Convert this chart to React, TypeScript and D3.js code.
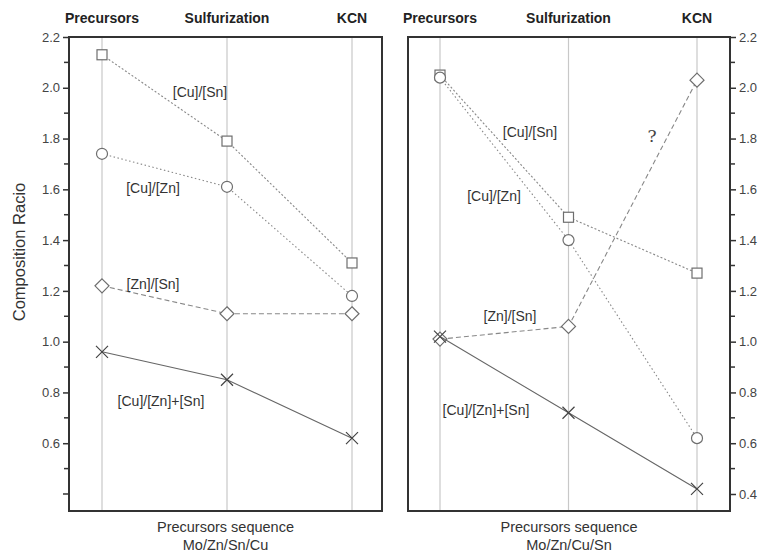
import React, { useEffect, useRef } from 'react'
import * as d3 from 'd3'

const stages = ['Precursors', 'Sulfurization', 'KCN']
const yTicks = [0.4, 0.6, 0.8, 1.0, 1.2, 1.4, 1.6, 1.8, 2.0, 2.2]

// left panel: Mo/Zn/Sn/Cu
const leftCuSn = [2.13, 1.79, 1.31]
const leftCuZn = [1.74, 1.61, 1.18]
const leftZnSn = [1.22, 1.11, 1.11]
const leftCuZnSn = [0.96, 0.85, 0.62]

// right panel: Mo/Zn/Cu/Sn
const rightCuSn = [2.05, 1.49, 1.27]
const rightCuZn = [2.04, 1.4, 0.62]
const rightZnSn = [1.01, 1.06, 2.03]
const rightCuZnSn = [1.02, 0.72, 0.42]

const seriesStyle = {
	cusn: { marker: 'square', dash: '2,2' },
	cuzn: { marker: 'circle', dash: '1.5,2.5' },
	znsn: { marker: 'diamond', dash: '5,3' },
	cross: { marker: 'cross', dash: null },
}

const ink = '#6e6e6e'
const font = 'Liberation Sans, Arial, sans-serif'

function drawMarker(g, type, x, y) {
	if (type === 'square') {
		g.append('rect').attr('x', x - 5).attr('y', y - 5).attr('width', 10).attr('height', 10)
			.attr('fill', '#fff').attr('stroke', ink).attr('stroke-width', 1.2)
	} else if (type === 'circle') {
		g.append('circle').attr('cx', x).attr('cy', y).attr('r', 5.5)
			.attr('fill', '#fff').attr('stroke', ink).attr('stroke-width', 1.2)
	} else if (type === 'diamond') {
		g.append('path').attr('d', `M${x},${y - 7}L${x + 7},${y}L${x},${y + 7}L${x - 7},${y}Z`)
			.attr('fill', '#fff').attr('stroke', ink).attr('stroke-width', 1.2)
	} else {
		g.append('path').attr('d', `M${x - 6},${y - 6}L${x + 6},${y + 6}M${x - 6},${y + 6}L${x + 6},${y - 6}`)
			.attr('stroke', '#444').attr('stroke-width', 1.2)
	}
}

export default function App() {
	const ref = useRef(null)

	useEffect(() => {
		const svg = d3.select(ref.current)
		svg.selectAll('*').remove()

		const top = 37
		const bottom = 511
		const y = d3.scaleLinear().domain([0.333, 2.2]).range([bottom, top])

		const panels = [
			{
				x0: 69, x1: 382, axis: 'left', seq: 'Mo/Zn/Sn/Cu',
				series: [
					{ key: 'cusn', vals: leftCuSn },
					{ key: 'cuzn', vals: leftCuZn },
					{ key: 'znsn', vals: leftZnSn },
					{ key: 'cross', vals: leftCuZnSn },
				],
				labels: [
					{ t: '[Cu]/[Sn]', x: 200, y: 97 },
					{ t: '[Cu]/[Zn]', x: 153, y: 193 },
					{ t: '[Zn]/[Sn]', x: 153, y: 289 },
					{ t: '[Cu]/[Zn]+[Sn]', x: 161, y: 406 },
				],
				tickLabels: yTicks.filter((d) => d >= 0.6),
				pad: [33, 30],
			},
			{
				x0: 408, x1: 730, axis: 'right', seq: 'Mo/Zn/Cu/Sn',
				series: [
					{ key: 'cusn', vals: rightCuSn },
					{ key: 'cuzn', vals: rightCuZn },
					{ key: 'znsn', vals: rightZnSn },
					{ key: 'cross', vals: rightCuZnSn },
				],
				labels: [
					{ t: '[Cu]/[Sn]', x: 530, y: 137 },
					{ t: '[Cu]/[Zn]', x: 494, y: 201 },
					{ t: '[Zn]/[Sn]', x: 510, y: 321 },
					{ t: '[Cu]/[Zn]+[Sn]', x: 486, y: 415 },
				],
				tickLabels: yTicks,
				pad: [32, 33],
			},
		]

		panels.forEach((p) => {
			const x = d3.scalePoint().domain(stages).range([p.x0 + p.pad[0], p.x1 - p.pad[1]])
			const g = svg.append('g')

			// category guide lines
			g.selectAll('line.grid').data(stages).enter().append('line')
				.attr('x1', (d) => x(d)).attr('x2', (d) => x(d))
				.attr('y1', top).attr('y2', bottom)
				.attr('stroke', '#c8c8c8').attr('stroke-width', 1.2)

			// stage headers
			g.selectAll('text.head').data(stages).enter().append('text')
				.attr('x', (d) => x(d)).attr('y', 23)
				.attr('text-anchor', 'middle')
				.attr('font-family', font)
				.attr('font-weight', 'bold').attr('font-size', 14).attr('fill', '#222')
				.text((d) => d)

			// series lines and markers
			p.series.forEach((s) => {
				const st = seriesStyle[s.key]
				const line = d3.line().x((d, i) => x(stages[i])).y((d) => y(d))
				g.append('path').attr('d', line(s.vals)).attr('fill', 'none')
					.attr('stroke', s.key === 'cross' ? '#666' : '#888')
					.attr('stroke-width', 1.1)
					.attr('stroke-dasharray', st.dash)
				s.vals.forEach((v, i) => drawMarker(g, st.marker, x(stages[i]), y(v)))
			})

			// series labels
			p.labels.forEach((l) => {
				g.append('text').attr('x', l.x).attr('y', l.y).attr('text-anchor', 'middle')
					.attr('font-family', font)
					.attr('font-size', 14).attr('fill', '#333').text(l.t)
			})

			// frame
			g.append('rect').attr('x', p.x0).attr('y', top).attr('width', p.x1 - p.x0).attr('height', bottom - top)
				.attr('fill', 'none').attr('stroke', '#333').attr('stroke-width', 2)

			// axis
			const ax = p.axis === 'left'
				? d3.axisLeft(y).tickValues(p.tickLabels).tickSize(6).tickFormat(d3.format('.1f'))
				: d3.axisRight(y).tickValues(p.tickLabels).tickSize(6).tickFormat(d3.format('.1f'))
			const axG = g.append('g').attr('transform', `translate(${p.axis === 'left' ? p.x0 : p.x1},0)`).call(ax)
			axG.select('.domain').remove()
			axG.selectAll('line').attr('stroke', '#333').attr('stroke-width', 1.5)
			axG.selectAll('text').attr('font-family', font)
				.attr('font-size', 13).attr('fill', '#444')

			const minor = d3.range(4, 22).map((d) => d / 10 + 0.1).filter((d) => d < 2.2 && Math.round(d * 10) % 2 === 1)
			const dir = p.axis === 'left' ? -1 : 1
			const x0 = p.axis === 'left' ? p.x0 : p.x1
			g.selectAll('line.minor').data(minor).enter().append('line')
				.attr('x1', x0).attr('x2', x0 + dir * 5)
				.attr('y1', (d) => y(d)).attr('y2', (d) => y(d))
				.attr('stroke', '#333').attr('stroke-width', 1.5)
			if (p.axis === 'left') {
				g.selectAll('line.minor0').data(yTicks.filter((d) => d < 0.6)).enter().append('line')
					.attr('x1', x0).attr('x2', x0 - 6)
					.attr('y1', (d) => y(d)).attr('y2', (d) => y(d))
					.attr('stroke', '#333').attr('stroke-width', 1.5)
			}

			// bottom title
			const cx = (p.x0 + p.x1) / 2
			g.append('text').attr('x', cx).attr('y', 532).attr('text-anchor', 'middle')
				.attr('font-family', font).attr('font-size', 14.5).attr('fill', '#333')
				.text('Precursors sequence')
			g.append('text').attr('x', cx).attr('y', 550).attr('text-anchor', 'middle')
				.attr('font-family', font).attr('font-size', 14.5).attr('fill', '#333')
				.text(p.seq)
		})

		svg.append('text').attr('x', 652).attr('y', 142).attr('text-anchor', 'middle')
			.attr('font-family', 'DejaVu Serif, Liberation Serif, serif').attr('font-size', 17).attr('fill', '#444')
			.text('?')

		svg.append('text').attr('transform', 'translate(25,252) rotate(-90)').attr('text-anchor', 'middle')
			.attr('font-family', font).attr('font-size', 16.5).attr('fill', '#333')
			.text('Composition Racio')
	}, [])

	return (
		<svg ref={ref} width={765} height={556} style={{ position: 'absolute', left: 0, top: 0, background: '#fff' }} />
	)
}
